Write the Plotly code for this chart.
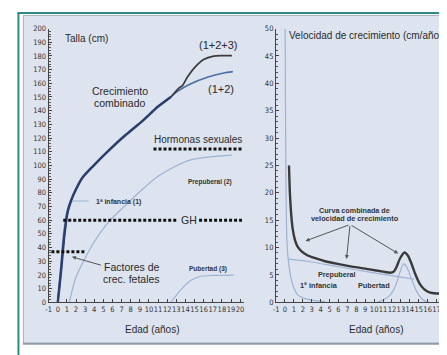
import plotly.graph_objects as go

# page has an 8px body margin: figure pixel = reference pixel - 8
OFF = 8
W, H = 447 - OFF, 355 - OFF

# ---------------- data: left chart (Talla, cm) ----------------
edad_12 = [0, 0.36, 0.72, 1.08, 1.44, 2.0, 2.7, 3.8, 5.6, 7.4, 9.2, 11.0, 12.4, 12.8, 14.6, 16.4, 18.2, 19.2]
talla_12 = [0, 23, 49, 66, 74, 82.6, 91, 99, 111, 122, 132, 143, 150, 152.5, 159.6, 164.4, 167.5, 168.5]

edad_123 = [12.4, 13.2, 13.7, 14.2, 15.0, 16.0, 17.1, 18.0, 19.1]
talla_123 = [150, 156, 158.5, 164.4, 171.5, 177.4, 179.9, 180.2, 180.2]

edad_inf = [0, 0.3, 0.6, 0.9, 1.2, 1.6]
talla_inf = [0, 26, 50, 64, 71, 74]

edad_pre = [1.26, 2.0, 3.8, 5.6, 7.4, 9.2, 11.0, 12.8, 14.6, 16.4, 19.1]
talla_pre = [0, 18.5, 42, 59, 70.7, 82, 92, 99, 104, 106, 107.5]

edad_pub = [12.4, 13.5, 14.6, 15.7, 17.0, 19.3]
talla_pub = [0, 9, 16, 19, 19.6, 19.8]

# hormone / factor bands (dotted lines)
gh_edad = [0.6, 13.2, None, 15.5, 20.2]
gh_talla = [60, 60, None, 60, 60]
hs_edad = [10.5, 20.2]
hs_talla = [112, 112]
fet_edad = [-0.7, 3.1]
fet_talla = [37, 37]

# ---------------- data: right chart (Velocidad, cm/año) ----------------
edad_vel = [0.45, 0.55, 0.7, 0.85, 1.1, 1.4, 1.8, 2.5, 3.3, 4.5, 5.9, 7.5, 9.5, 11.0, 11.8,
            12.2, 12.5, 12.9, 13.4, 13.8, 14.2, 14.6, 15.1, 15.6, 16.2, 17.0, 17.7]
vel_comb = [25, 20, 16, 13.6, 11.5, 10.2, 9.4, 8.6, 8.1, 7.5, 7.0, 6.5, 6.0, 5.6, 5.4,
            5.6, 6.4, 8.0, 9.1, 8.5, 7.0, 5.2, 3.4, 2.4, 1.8, 1.6, 1.6]

edad_vinf = [0.02, 0.05, 0.1, 0.15, 0.2, 0.3, 0.4, 0.55, 0.7, 1.0, 1.4, 2.0, 3.0, 4.5]
vel_inf = [50, 38, 24, 16, 12, 9, 7.3, 5.5, 4.2, 2.6, 1.4, 0.8, 0.4, 0.1]

edad_vpre = [0.4, 2.5, 5.0, 8.0, 11.0, 13.0, 14.5]
vel_pre = [7.9, 7.5, 6.8, 5.9, 5.1, 4.6, 4.2]

edad_vpub = [10.3, 11.0, 11.8, 12.4, 12.9, 13.3, 13.7, 14.2, 14.8, 15.5, 16.0]
vel_pub = [0, 0.4, 1.3, 3.0, 5.5, 7.0, 6.3, 4.2, 1.9, 0.4, 0]

# arrow targets on the right chart
flecha_origen = (7.3, 14.2)
flecha_destinos = [(2.3, 11.2), (6.9, 7.9), (12.7, 8.9)]

x_ticks_izq = list(range(-1, 21))
x_ticks_der = list(range(-1, 19))

# ---------------- styling ----------------
NARROW = "Liberation Sans Narrow, DejaVu Sans Condensed, Arial Narrow, sans-serif"
SANS = "Liberation Sans, Arial, Helvetica, sans-serif"
TXT = "#2a2a2a"
SMALL = "#333333"
LIGHT = "#9db3d3"


def px(x):
    return (x - OFF) / W


def py(y):
    return 1 - (y - OFF) / H


fig = go.Figure()

spl = dict(shape="spline", smoothing=0.6)
# left chart traces
fig.add_trace(go.Scatter(x=edad_inf, y=talla_inf, mode="lines", line=dict(color=LIGHT, width=1.2, **spl), xaxis="x", yaxis="y"))
fig.add_trace(go.Scatter(x=edad_pre, y=talla_pre, mode="lines", line=dict(color=LIGHT, width=1.2, **spl), xaxis="x", yaxis="y"))
fig.add_trace(go.Scatter(x=edad_pub, y=talla_pub, mode="lines", line=dict(color=LIGHT, width=1.2, **spl), xaxis="x", yaxis="y"))
fig.add_trace(go.Scatter(x=edad_12, y=talla_12, mode="lines", line=dict(color="#4b6fa8", width=1.7, **spl), xaxis="x", yaxis="y"))
fig.add_trace(go.Scatter(x=edad_123, y=talla_123, mode="lines", line=dict(color="#3b3b3b", width=1.7, **spl), xaxis="x", yaxis="y"))
trunk_x = [a for a in edad_12 if a <= 12.4]
trunk_y = talla_12[:len(trunk_x)]
fig.add_trace(go.Scatter(x=trunk_x, y=trunk_y, mode="lines", line=dict(color="#2a3f6e", width=2.5, **spl), xaxis="x", yaxis="y"))
for xs, ys in [(gh_edad, gh_talla), (hs_edad, hs_talla), (fet_edad, fet_talla)]:
    fig.add_trace(go.Scatter(x=xs, y=ys, mode="lines", line=dict(color="#111111", width=3, dash="3px,2px"), xaxis="x", yaxis="y"))

# right chart traces
fig.add_trace(go.Scatter(x=edad_vinf, y=vel_inf, mode="lines", line=dict(color=LIGHT, width=1.2, **spl), xaxis="x2", yaxis="y2"))
fig.add_trace(go.Scatter(x=edad_vpre, y=vel_pre, mode="lines", line=dict(color=LIGHT, width=1.2, **spl), xaxis="x2", yaxis="y2"))
fig.add_trace(go.Scatter(x=edad_vpub, y=vel_pub, mode="lines", line=dict(color=LIGHT, width=1.2, **spl), xaxis="x2", yaxis="y2"))
fig.add_trace(go.Scatter(x=edad_vel, y=vel_comb, mode="lines", line=dict(color="#3a3a3a", width=2.4, **spl), xaxis="x2", yaxis="y2"))

axis_common = dict(showgrid=False, zeroline=False, showline=True, linecolor="#444", linewidth=1.2,
                   ticks="inside", tickcolor="#444", ticklen=3, tickwidth=1,
                   tickfont=dict(family=NARROW, size=7.5, color="#333"), fixedrange=True)

ydom = [py(306), py(25)]
fig.update_layout(
    width=W, height=H, margin=dict(l=0, r=0, t=0, b=0),
    paper_bgcolor="white", plot_bgcolor="rgba(0,0,0,0)", showlegend=False,
    xaxis=dict(domain=[px(46), px(243)], range=[-1, 20.41], tickmode="array", tickvals=x_ticks_izq,
               ticktext=[str(v) for v in x_ticks_izq], tickangle=0, anchor="y", **axis_common),
    yaxis=dict(domain=ydom, range=[0, 200], dtick=10, tick0=0, anchor="x",
               minor=dict(ticks="inside", dtick=2, ticklen=1.8, tickcolor="#555"), **axis_common),
    xaxis2=dict(domain=[px(275.5), 1], range=[-1, 18.06], tickmode="array", tickvals=x_ticks_der,
                ticktext=[str(v) for v in x_ticks_der], tickangle=0, anchor="y2", **axis_common),
    yaxis2=dict(domain=ydom, range=[0, 50], dtick=5, tick0=0, anchor="x2",
                minor=dict(ticks="inside", dtick=1, ticklen=1.8, tickcolor="#555"), **axis_common),
)

# frame
shapes = [
    dict(type="rect", xref="paper", yref="paper", x0=px(20.5), x1=px(470), y0=py(348), y1=py(11.5),
         fillcolor="#dde4ef", line=dict(color="#a4afbd", width=1), layer="below"),
    dict(type="line", xref="paper", yref="paper", x0=px(20), x1=px(470), y0=py(348.5), y1=py(348.5),
         line=dict(color="#8e9aa8", width=2), layer="below"),
    dict(type="line", xref="paper", yref="paper", x0=px(15.5), x1=px(15.5), y0=py(9), y1=py(370),
         line=dict(color="#2f8a86", width=2), layer="below"),
    dict(type="line", xref="paper", yref="paper", x0=px(14.5), x1=px(470), y0=py(9), y1=py(9),
         line=dict(color="#2f8a86", width=2), layer="below"),
]
fig.update_layout(shapes=shapes)

ann = []


def text(t, x, y, size, family=SANS, anchor="center", color=TXT):
    ann.append(dict(text=t, x=px(x), y=py(y), xref="paper", yref="paper", showarrow=False,
                    xanchor=anchor, yanchor="middle", font=dict(family=family, size=size, color=color)))


text("Talla (cm)", 60, 35, 10, anchor="left")
text("(1+2+3)", 217, 42, 11)
text("(1+2)", 220, 87, 11)
text("Crecimiento", 118, 89.5, 10.5)
text("combinado", 118, 101.5, 10.5)
text("Hormonas sexuales", 197, 139, 10)
text("<b>Prepuberal (2)</b>", 209, 183, 6.5, color=SMALL)
text("<b>1ª infancia (1)</b>", 92, 203, 7, anchor="left", color=SMALL)
text("GH", 187.5, 222, 10.5)
text("Factores de", 130, 270, 10.5)
text("crec. fetales", 130, 282, 10.5)
text("<b>Pubertad (3)</b>", 207, 272, 6.5, color=SMALL)
text("Edad (años)", 150, 334, 10)

text("Velocidad de crecimiento (cm/año)", 287, 32, 10, anchor="left")
text("<b>Curva combinada de</b>", 355, 212, 7.2, color=SMALL)
text("<b>velocidad de crecimiento</b>", 355, 220, 7.3, color=SMALL)
text("<b>Prepuberal</b>", 337, 277, 7.2, color=SMALL)
text("<b>1ª infancia</b>", 319, 289, 7.4, color=SMALL)
text("<b>Pubertad</b>", 374, 289, 7.3, color=SMALL)
text("Edad (años)", 376, 334, 10)

# arrows (data coordinates)
ann.append(dict(x=1.55, y=33.2, ax=4.9, ay=26.8, xref="x", yref="y", axref="x", ayref="y", text="",
                showarrow=True, arrowhead=2, arrowsize=0.8, arrowwidth=1, arrowcolor="#555"))
ann.append(dict(x=1.6, y=74, ax=3.55, ay=74, xref="x", yref="y", axref="x", ayref="y", text="",
                showarrow=True, arrowhead=0, arrowwidth=1, arrowcolor=LIGHT))
for (tx, ty) in flecha_destinos:
    ann.append(dict(x=tx, y=ty, ax=flecha_origen[0], ay=flecha_origen[1], xref="x2", yref="y2",
                    axref="x2", ayref="y2", text="", showarrow=True, arrowhead=2, arrowsize=0.8,
                    arrowwidth=1, arrowcolor="#555"))
fig.update_layout(annotations=ann)

fig.write_html("out.html")
